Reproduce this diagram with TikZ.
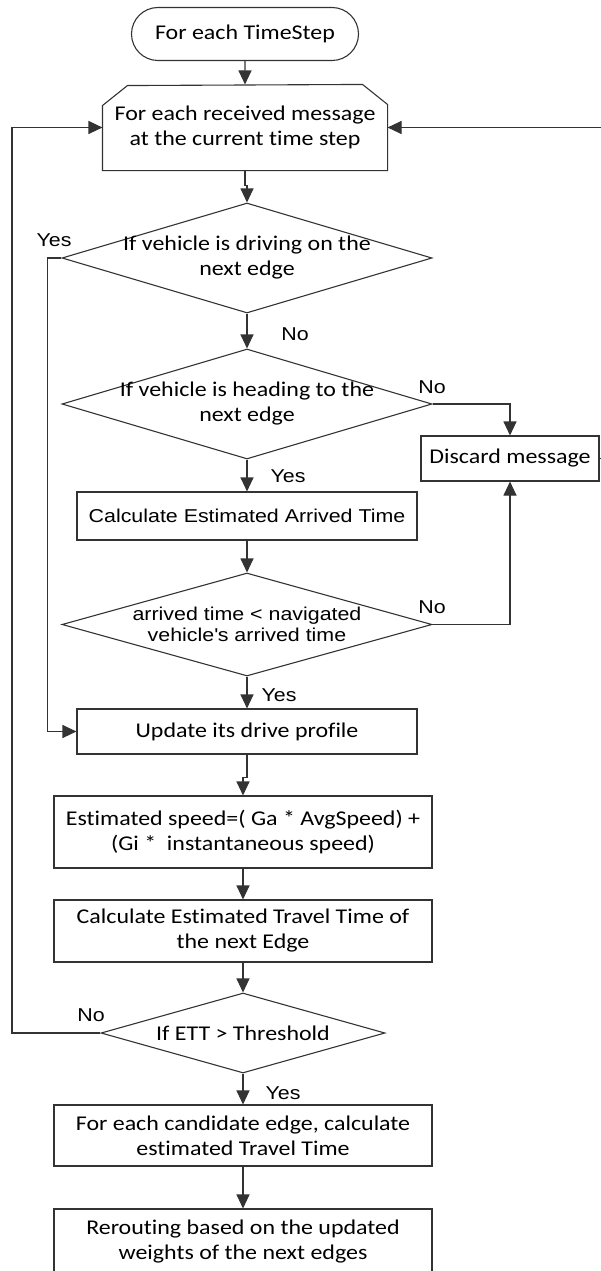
\documentclass[tikz,border=0pt]{standalone}
\usepackage{fontspec}
\setmainfont{Carlito}[FakeStretch=1.14,Ligatures=NoCommon]
\newfontfamily\arialfont{Liberation Sans}[FakeStretch=1.15]
\usetikzlibrary{shapes.geometric,shapes.misc,arrows.meta}
\begin{document}
\begin{tikzpicture}[x=1pt,y=-1pt,line width=1.1pt,
  box/.style={draw=black!80,rectangle,inner sep=0pt,align=center,font=\fontsize{21}{25}\selectfont},
  arbox/.style={box,font=\arialfont\fontsize{18.6}{22}\selectfont},
  dec/.style={draw=black!80,diamond,inner sep=0pt},
  dectext/.style={align=center,inner sep=0pt,font=\fontsize{21}{25}\selectfont},
  lbl/.style={inner sep=0pt,font=\arialfont\fontsize{18.6}{22}\selectfont},
  arr/.style={draw=black!80,-{Triangle[length=14pt,width=13pt]}}]
  \useasboundingbox (0,0) rectangle (600,1271);
  \node[box,rounded rectangle,minimum width=227pt,minimum height=53pt] (start) at (245,34) {For each TimeStep};
  \node[box,draw=none,minimum width=284pt,minimum height=85pt] (loop) at (245,127.5) {For each received message\\at the current time step};
  \draw[draw=black!80] (loop.south west) -- ++(0,-65) -- ++(25,-20) -- ([xshift=-25pt]loop.north east) -- ++(25,20) -- (loop.south east) -- cycle;
  \node[dec,minimum width=370pt,minimum height=110pt] (d1) at (247,258) {};
  \node[dectext] (d1txt) at (d1) {If vehicle is driving on the\\next edge};
  \node[dec,minimum width=370pt,minimum height=110pt] (d2) at (247,404) {};
  \node[dectext] (d2txt) at (d2) {If vehicle is heading to the\\next edge};
  \node[box,minimum width=178pt,minimum height=45pt] (discard) at (510,458.5) {Discard message};
  \node[arbox,minimum width=340pt,minimum height=48pt] (eta) at (247,516) {Calculate Estimated Arrived Time};
  \node[dec,minimum width=370pt,minimum height=103pt] (d3) at (247,624.5) {};
  \node[dectext,font=\arialfont\fontsize{18.6}{21}\selectfont] (d3txt) at (d3) {arrived time < navigated\\vehicle\textquotesingle s arrived time};
  \node[box,minimum width=340pt,minimum height=45pt] (upd) at (247,731.5) {Update its drive profile};
  \node[box,minimum width=378pt,minimum height=72pt] (spd) at (243,832) {Estimated speed=( Ga * AvgSpeed) +\\(Gi *\ \ instantaneous speed)};
  \node[box,minimum width=378pt,minimum height=62pt] (ett) at (243,931) {Calculate Estimated Travel Time of\\the next Edge};
  \node[dec,minimum width=284pt,minimum height=80pt] (d4) at (243,1033) {};
  \node[dectext] (d4txt) at (d4) {If ETT > Threshold};
  \node[box,minimum width=378pt,minimum height=61pt] (cand) at (243,1135.5) {For each candidate edge, calculate\\estimated Travel Time};
  \node[box,minimum width=378pt,minimum height=64pt] (rer) at (243,1241) {Rerouting based on the updated\\weights of the next edges};
  \coordinate (lft) at (12,0);
  \draw[arr] (start) -- (loop);
  \draw[arr] (loop.south) -- ++(0,15) -| (d1.north);
  \draw[arr] (d1) -- (d2);
  \draw[arr] (d1.west) -- ++(-14,0) |- (upd.west);
  \draw[arr] (d2.east) -| (discard.north);
  \draw[arr] (d2) -- (eta);
  \draw[arr] (eta) -- (d3);
  \draw[arr] (d3.east) -| (discard.south);
  \draw[arr] (d3) -- (upd);
  \draw[arr] (upd.south) -- ++(0,23) -| (spd.north);
  \draw[arr] (spd) -- (ett);
  \draw[arr] (ett) -- (d4);
  \draw[arr] (d4.west) -- (d4.west -| lft) |- (loop.west);
  \draw[arr] (d4) -- (cand);
  \draw[arr] (cand) -- (rer);
  \draw[arr] (discard.east) -- ++(20,0) |- (loop.east);
  \node[lbl] (no1) at (295,334) {No};
  \node[lbl] (yes1) at (54,240) {Yes};
  \node[lbl] (no2) at (432,387) {No};
  \node[lbl] (yes2) at (288,476) {Yes};
  \node[lbl] (no3) at (432,607) {No};
  \node[lbl] (yes3) at (279,695) {Yes};
  \node[lbl] (no4) at (91,1015) {No};
  \node[lbl] (yes4) at (283,1093) {Yes};
\end{tikzpicture}
\end{document}
